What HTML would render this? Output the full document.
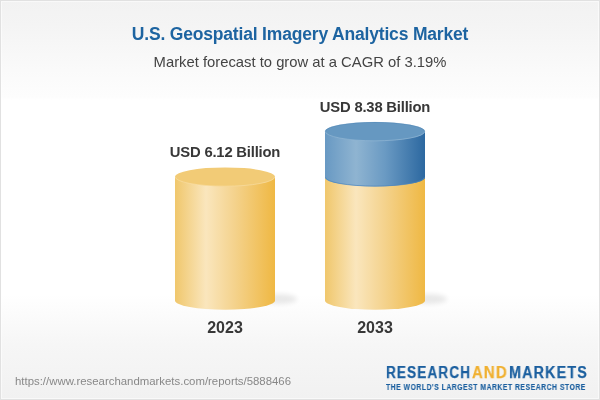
<!DOCTYPE html>
<html><head><meta charset="utf-8">
<style>
html,body{margin:0;padding:0;}
body{width:600px;height:400px;overflow:hidden;position:relative;font-family:"Liberation Sans",sans-serif;
background:linear-gradient(to bottom,#f2f2f2 0px,#f4f4f4 25px,#fafafa 70px,#fdfdfd 97px,#ffffff 100px,#ffffff 295px,#f6f6f6 345px,#f1f1f1 400px);}
#frame{position:absolute;left:0;top:0;width:598px;height:398px;border:1px solid #e1e1e1;box-shadow:inset 0 0 0 1px rgba(255,255,255,0.55);}
.t{position:absolute;white-space:nowrap;line-height:1;will-change:transform;}
#title{left:0;width:600px;text-align:center;top:25.5px;font-size:17.5px;letter-spacing:-0.18px;font-weight:bold;color:#1d64a1;}
#sub{left:0;width:600px;text-align:center;top:54.6px;font-size:14.8px;color:#444;}
#v1{left:125px;width:200px;text-align:center;top:144.6px;font-size:14.8px;letter-spacing:-0.2px;font-weight:bold;color:#383838;}
#v2{left:275px;width:200px;text-align:center;top:99.6px;font-size:14.8px;letter-spacing:-0.2px;font-weight:bold;color:#383838;}
#y1{left:125px;width:200px;text-align:center;top:320px;font-size:16px;font-weight:bold;color:#383838;}
#y2{left:275px;width:200px;text-align:center;top:320px;font-size:16px;font-weight:bold;color:#383838;}
#url{left:15px;top:375.5px;font-size:11.4px;color:#888;}
.lg{position:absolute;white-space:nowrap;line-height:1;will-change:transform;font-weight:bold;color:#1b5f9f;transform-origin:0 0;}
#lr{left:385.5px;top:365px;font-size:16px;letter-spacing:1.3px;transform:scaleX(0.85);-webkit-text-stroke:0.25px #1b5f9f;}
#la{left:472.4px;top:365px;font-size:16px;letter-spacing:1.3px;color:#f0b030;transform:scaleX(0.93);-webkit-text-stroke:0.25px #f0b030;}
#lm{left:509px;top:365px;font-size:16px;letter-spacing:1.3px;transform:scaleX(0.895);-webkit-text-stroke:0.25px #1b5f9f;}
#logo2{will-change:transform;left:385.5px;top:383px;font-size:8.5px;letter-spacing:0.67px;font-weight:bold;color:#1b5f9f;transform:scaleX(0.8);-webkit-text-stroke:0.15px #1b5f9f;transform-origin:0 0;}
svg{position:absolute;left:0;top:0;}
</style></head><body>
<div id="frame"></div>
<svg width="600" height="400" viewBox="0 0 600 400">
<defs>
<linearGradient id="gy" x1="0" x2="1" y1="0" y2="0">
<stop offset="0" stop-color="#f0c76c"/>
<stop offset="0.31" stop-color="#fae6bd"/>
<stop offset="0.6" stop-color="#f4d28c"/>
<stop offset="1" stop-color="#efb843"/>
</linearGradient>
<linearGradient id="gb" x1="0" x2="1" y1="0" y2="0">
<stop offset="0" stop-color="#6899c3"/>
<stop offset="0.31" stop-color="#8fb4d1"/>
<stop offset="0.6" stop-color="#6a9ac3"/>
<stop offset="1" stop-color="#2c68a0"/>
</linearGradient>
<filter id="blur" x="-50%" y="-50%" width="200%" height="200%"><feGaussianBlur stdDeviation="2.6"/></filter>
</defs>
<!-- shadows -->
<ellipse cx="279" cy="299" rx="18" ry="5" fill="#000" opacity="0.085" filter="url(#blur)"/>
<ellipse cx="429" cy="299" rx="18" ry="5" fill="#000" opacity="0.085" filter="url(#blur)"/>
<!-- left cylinder -->
<path d="M175 176.9 L175 300.4 A50 9.4 0 0 0 275 300.4 L275 176.9 Z" fill="url(#gy)"/>
<ellipse cx="225" cy="176.9" rx="50" ry="9.5" fill="#f2cb76"/>
<path d="M175.3 176.9 A49.7 9.3 0 0 0 274.7 176.9" fill="none" stroke="#fbe6b8" stroke-width="0.8" opacity="0.6"/>
<!-- right cylinder -->
<path d="M325 177.5 L325 300.4 A50 9.4 0 0 0 425 300.4 L425 177.5 Z" fill="url(#gy)"/>
<path d="M325 131.5 L325 177.5 A50 9 0 0 0 425 177.5 L425 131.5 Z" fill="url(#gb)"/>
<path d="M325.6 177.3 A49.4 8.8 0 0 0 424.4 177.3" fill="none" stroke="#4d86bd" stroke-width="1" opacity="0.7"/>
<ellipse cx="375" cy="131.5" rx="50" ry="9.5" fill="#6698c1"/>
<path d="M325.5 131.5 A49.5 9.1 0 0 1 424.5 131.5" fill="none" stroke="#4f85b5" stroke-width="0.8" opacity="0.6"/>
<path d="M325.3 131.5 A49.7 9.3 0 0 0 424.7 131.5" fill="none" stroke="#a9c6de" stroke-width="0.8" opacity="0.6"/>
</svg>
<div class="t" id="title">U.S. Geospatial Imagery Analytics Market</div>
<div class="t" id="sub">Market forecast to grow at a CAGR of 3.19%</div>
<div class="t" id="v1">USD 6.12 Billion</div>
<div class="t" id="v2">USD 8.38 Billion</div>
<div class="t" id="y1">2023</div>
<div class="t" id="y2">2033</div>
<div class="t" id="url">https://www.researchandmarkets.com/reports/5888466</div>
<div class="lg" id="lr">RESEARCH</div><div class="lg" id="la">AND</div><div class="lg" id="lm">MARKETS</div>
<div class="t" id="logo2">THE WORLD'S LARGEST MARKET RESEARCH STORE</div>
</body></html>
